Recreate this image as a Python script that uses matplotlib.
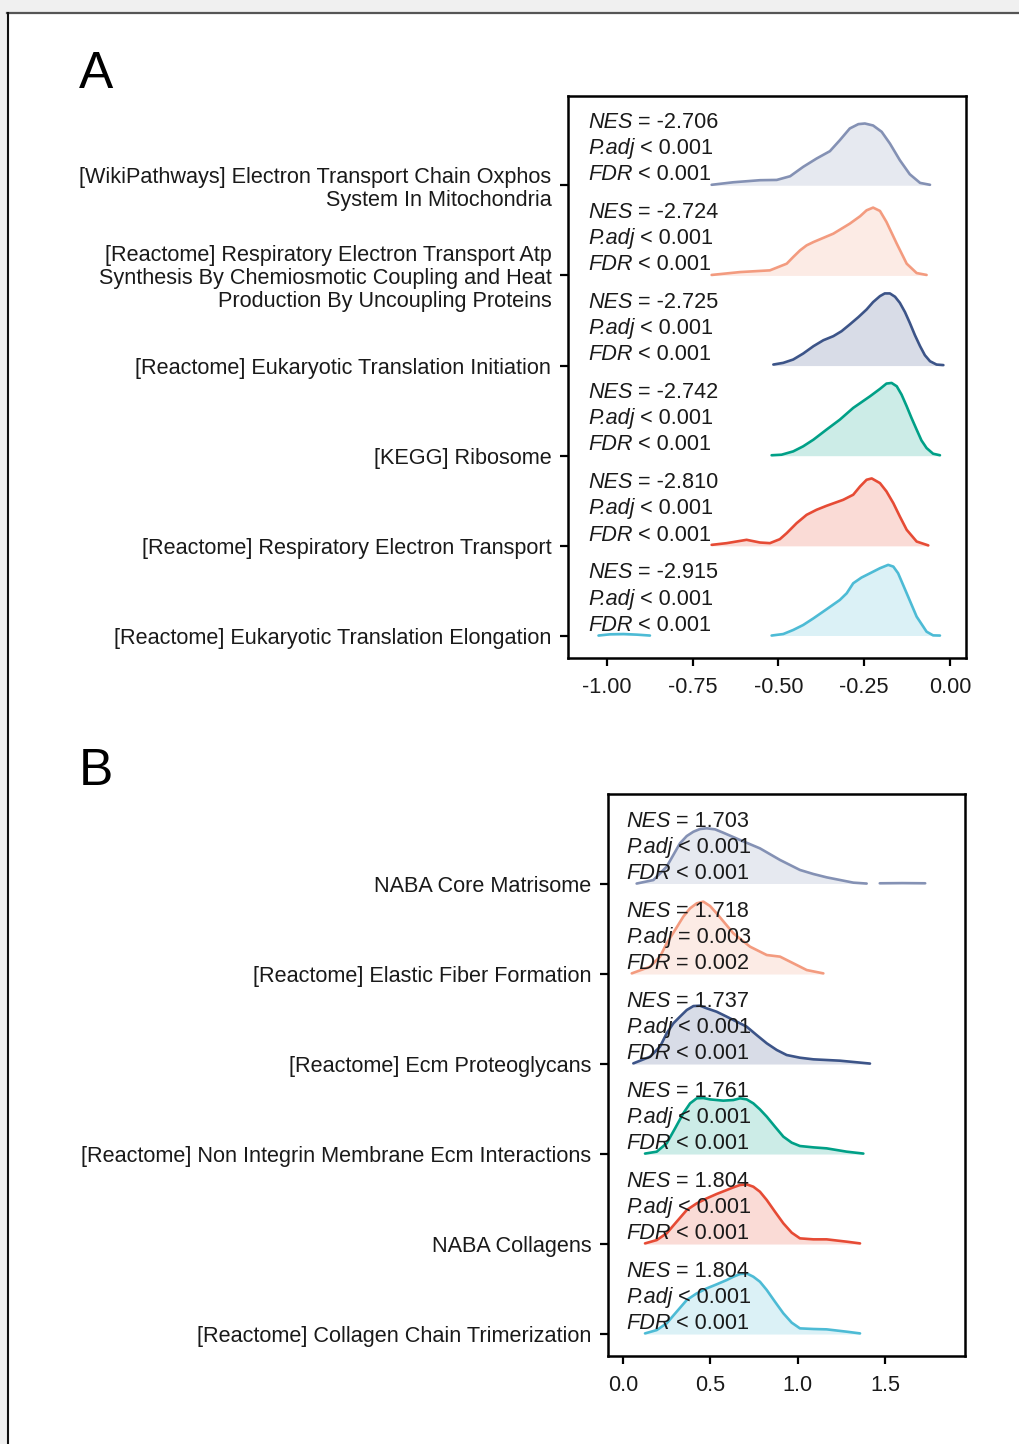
import numpy as np
import matplotlib
matplotlib.use("Agg")
import matplotlib.pyplot as plt
from matplotlib.patches import Rectangle
from matplotlib.lines import Line2D
import matplotlib.transforms as mtransforms

plt.rcParams['font.family'] = ['Liberation Sans', 'DejaVu Sans']

# ridge colours, top -> bottom (same in both panels)
colors = ["#8491B4", "#F39B7F", "#3C5488", "#00A087", "#E64B35", "#4DBBD5"]

# ---------------- panel A (top -> bottom) ----------------
labels_a = [
    "[WikiPathways] Electron Transport Chain Oxphos\nSystem In Mitochondria",
    "[Reactome] Respiratory Electron Transport Atp\nSynthesis By Chemiosmotic Coupling and Heat\nProduction By Uncoupling Proteins",
    "[Reactome] Eukaryotic Translation Initiation",
    "[KEGG] Ribosome",
    "[Reactome] Respiratory Electron Transport",
    "[Reactome] Eukaryotic Translation Elongation",
]
nes_a = ["-2.706", "-2.724", "-2.725", "-2.742", "-2.810", "-2.915"]
padj_a = ["< 0.001"] * 6
fdr_a = ["< 0.001"] * 6

# density curves (x = running score, h = ridge height)
a1_x = [-0.695, -0.632, -0.554, -0.505, -0.466, -0.428, -0.389, -0.350, -0.321, -0.292, -0.267, -0.248,
        -0.224, -0.199, -0.175, -0.146, -0.117, -0.087, -0.058]
a1_h = [0.005, 0.033, 0.056, 0.059, 0.10, 0.204, 0.296, 0.378, 0.50, 0.63, 0.678, 0.685,
        0.663, 0.593, 0.463, 0.278, 0.122, 0.026, 0.005]
a2_x = [-0.695, -0.612, -0.525, -0.476, -0.457, -0.437, -0.418, -0.398, -0.340, -0.292, -0.262, -0.243,
        -0.224, -0.204, -0.185, -0.155, -0.126, -0.097, -0.068]
a2_h = [0.005, 0.037, 0.056, 0.13, 0.204, 0.278, 0.333, 0.37, 0.463, 0.574, 0.656, 0.722,
        0.752, 0.715, 0.593, 0.352, 0.13, 0.026, 0.005]
a3_x = [-0.515, -0.486, -0.457, -0.428, -0.398, -0.369, -0.340, -0.316, -0.292, -0.267, -0.243, -0.224, -0.204,
        -0.190, -0.175, -0.160, -0.146, -0.131, -0.117, -0.102, -0.087, -0.073, -0.058, -0.039, -0.019]
a3_h = [0.011, 0.03, 0.067, 0.133, 0.215, 0.281, 0.326, 0.381, 0.456, 0.537, 0.622, 0.704, 0.77,
        0.80, 0.80, 0.763, 0.696, 0.593, 0.474, 0.337, 0.215, 0.115, 0.048, 0.011, 0.005]
a4_x = [-0.520, -0.491, -0.457, -0.428, -0.398, -0.360, -0.321, -0.282, -0.233, -0.204, -0.185, -0.170,
        -0.155, -0.141, -0.126, -0.112, -0.097, -0.083, -0.068, -0.049, -0.029]
a4_h = [0.005, 0.011, 0.048, 0.104, 0.178, 0.289, 0.40, 0.53, 0.659, 0.741, 0.80, 0.807,
        0.77, 0.678, 0.548, 0.419, 0.289, 0.17, 0.085, 0.022, 0.005]
a5_x = [-0.695, -0.651, -0.593, -0.554, -0.525, -0.496, -0.476, -0.447, -0.418, -0.389, -0.360, -0.311,
        -0.282, -0.262, -0.243, -0.228, -0.204, -0.185, -0.165, -0.146, -0.126, -0.097, -0.063]
a5_h = [0.011, 0.03, 0.067, 0.037, 0.03, 0.074, 0.141, 0.252, 0.344, 0.40, 0.444, 0.511,
        0.567, 0.659, 0.733, 0.748, 0.696, 0.604, 0.474, 0.326, 0.178, 0.048, 0.005]
a6_x = [-1.025, -0.991, -0.952, -0.913, -0.875, np.nan,
        -0.520, -0.486, -0.457, -0.428, -0.398, -0.360, -0.321, -0.301, -0.282, -0.258, -0.233, -0.204,
        -0.180, -0.165, -0.151, -0.126, -0.097, -0.068, -0.049, -0.029]
a6_h = [0.005, 0.019, 0.022, 0.015, 0.005, np.nan,
        0.005, 0.022, 0.067, 0.122, 0.196, 0.296, 0.40, 0.474, 0.585, 0.648, 0.696, 0.752,
        0.789, 0.77, 0.696, 0.474, 0.215, 0.048, 0.007, 0.005]
xs_a = [a1_x, a2_x, a3_x, a4_x, a5_x, a6_x]
hs_a = [a1_h, a2_h, a3_h, a4_h, a5_h, a6_h]

# ---------------- panel B (top -> bottom) ----------------
labels_b = [
    "NABA Core Matrisome",
    "[Reactome] Elastic Fiber Formation",
    "[Reactome] Ecm Proteoglycans",
    "[Reactome] Non Integrin Membrane Ecm Interactions",
    "NABA Collagens",
    "[Reactome] Collagen Chain Trimerization",
]
nes_b = ["1.703", "1.718", "1.737", "1.761", "1.804", "1.804"]
padj_b = ["< 0.001", "= 0.003", "< 0.001", "< 0.001", "< 0.001", "< 0.001"]
fdr_b = ["< 0.001", "= 0.002", "< 0.001", "< 0.001", "< 0.001", "< 0.001"]

b1_x = [0.078, 0.174, 0.25, 0.288, 0.326, 0.365, 0.403, 0.441, 0.479, 0.527, 0.574, 0.67, 0.784,
        0.899, 1.013, 1.09, 1.166, 1.319, 1.395, np.nan, 1.47, 1.60, 1.73]
b1_h = [0.005, 0.044, 0.193, 0.322, 0.452, 0.533, 0.581, 0.611, 0.619, 0.607, 0.57, 0.489, 0.396,
        0.267, 0.156, 0.111, 0.074, 0.015, 0.005, np.nan, 0.008, 0.010, 0.008]
b2_x = [0.05, 0.155, 0.212, 0.25, 0.298, 0.345, 0.384, 0.422, 0.46, 0.498, 0.536, 0.584, 0.632,
        0.727, 0.823, 0.899, 0.975, 1.052, 1.147]
b2_h = [0.007, 0.081, 0.193, 0.341, 0.489, 0.637, 0.73, 0.785, 0.804, 0.756, 0.674, 0.563, 0.452,
        0.304, 0.211, 0.193, 0.119, 0.044, 0.007]
b3_x = [0.059, 0.155, 0.212, 0.25, 0.288, 0.326, 0.365, 0.403, 0.441, 0.479, 0.536, 0.594, 0.708,
        0.765, 0.823, 0.88, 0.937, 1.013, 1.09, 1.242, 1.414]
b3_h = [0.007, 0.081, 0.193, 0.341, 0.452, 0.526, 0.60, 0.644, 0.648, 0.619, 0.581, 0.526, 0.415,
        0.322, 0.23, 0.156, 0.10, 0.07, 0.052, 0.037, 0.005]
b4_x = [0.126, 0.193, 0.25, 0.298, 0.345, 0.384, 0.422, 0.46, 0.498, 0.574, 0.632, 0.67, 0.708,
        0.746, 0.784, 0.823, 0.87, 0.918, 0.966, 1.013, 1.09, 1.166, 1.281, 1.376]
b4_h = [0.005, 0.026, 0.119, 0.285, 0.452, 0.563, 0.619, 0.622, 0.607, 0.593, 0.60, 0.619, 0.607,
        0.563, 0.496, 0.415, 0.304, 0.193, 0.126, 0.089, 0.074, 0.063, 0.026, 0.005]
b5_x = [0.126, 0.193, 0.25, 0.307, 0.365, 0.422, 0.479, 0.536, 0.594, 0.632, 0.67, 0.708, 0.746,
        0.784, 0.823, 0.87, 0.918, 0.966, 1.013, 1.09, 1.166, 1.281, 1.357]
b5_h = [0.007, 0.044, 0.119, 0.248, 0.378, 0.452, 0.507, 0.556, 0.60, 0.63, 0.656, 0.663, 0.637,
        0.581, 0.489, 0.359, 0.23, 0.126, 0.063, 0.052, 0.052, 0.026, 0.007]
b6_x = [0.126, 0.193, 0.25, 0.307, 0.365, 0.422, 0.479, 0.536, 0.594, 0.632, 0.67, 0.708, 0.746,
        0.784, 0.823, 0.87, 0.918, 0.966, 1.013, 1.09, 1.166, 1.281, 1.357]
b6_h = [0.007, 0.044, 0.119, 0.248, 0.378, 0.452, 0.507, 0.552, 0.60, 0.637, 0.667, 0.674, 0.637,
        0.581, 0.489, 0.359, 0.23, 0.126, 0.063, 0.056, 0.052, 0.026, 0.007]
xs_b = [b1_x, b2_x, b3_x, b4_x, b5_x, b6_x]
hs_b = [b1_h, b2_h, b3_h, b4_h, b5_h, b6_h]

W, H = 1019, 1444
fig = plt.figure(figsize=(W / 100, H / 100), dpi=100)
fig.patch.set_facecolor("white")

# screenshot frame: gray strip on top and left
fig.add_artist(Rectangle((0, 1 - 12.5 / H), 1, 12.5 / H, transform=fig.transFigure,
                         facecolor="#f0f0f0", edgecolor="none"))
fig.add_artist(Rectangle((0, 0), 7 / W, 1, transform=fig.transFigure,
                         facecolor="#f0f0f0", edgecolor="none"))
fig.add_artist(Line2D([7 / W, 1], [1 - 13 / H, 1 - 13 / H], transform=fig.transFigure,
                      color="#555555", lw=1.6))
fig.add_artist(Line2D([7.5 / W, 7.5 / W], [0, 1 - 13 / H], transform=fig.transFigure,
                      color="#111111", lw=1.5))

FS = 15.6
TXT = "#1a1a1a"


def stat_line(ax, tr, x, y, name, rest):
    t = ax.text(x, y, name, transform=tr, ha="left", va="center", fontsize=FS,
                style="italic", color=TXT, zorder=4)
    ax.annotate(" " + rest, xy=(1, 0.5), xycoords=t, ha="left", va="center",
                fontsize=FS, color=TXT, zorder=4)


def ridge_panel(ax, xs, hs, labels, nes, padj, fdr, xlim, xticks, xticklabels, ylim, txt_x):
    n = len(xs)
    tr = mtransforms.blended_transform_factory(ax.transAxes, ax.transData)
    for k in range(n):
        base = n - 1 - k
        x = np.array(xs[k], dtype=float)
        y = base + np.array(hs[k], dtype=float)
        ax.fill_between(x, base, y, color=colors[k], alpha=0.2, lw=0, zorder=2)
        ax.plot(x, y, color=colors[k], lw=1.9, zorder=3, solid_capstyle="round",
                solid_joinstyle="round")
        stat_line(ax, tr, txt_x, base + 0.70, "NES", "= " + nes[k])
        stat_line(ax, tr, txt_x, base + 0.41, "P.adj", padj[k])
        stat_line(ax, tr, txt_x, base + 0.12, "FDR", fdr[k])
    ax.set_xlim(*xlim)
    ax.set_ylim(*ylim)
    ax.set_yticks(range(n))
    ax.set_yticklabels(labels[::-1], fontsize=FS, color=TXT)
    for lbl in ax.get_yticklabels():
        lbl.set_linespacing(1.12)
    ax.set_xticks(xticks)
    ax.set_xticklabels(xticklabels, fontsize=FS, color=TXT)
    ax.tick_params(axis="both", length=6, width=1.6, color="black")
    ax.tick_params(axis="y", pad=6)
    ax.tick_params(axis="x", pad=7.5)
    for s in ax.spines.values():
        s.set_linewidth(1.8)
        s.set_color("black")


ax_a = fig.add_axes([568 / W, 1 - 658 / H, 398 / W, 562 / H])
ridge_panel(ax_a, xs_a, hs_a, labels_a, nes_a, padj_a, fdr_a,
            (-1.114, 0.047), [-1.0, -0.75, -0.5, -0.25, 0.0],
            ["-1.00", "-0.75", "-0.50", "-0.25", "0.00"], (-0.244, 5.99), 0.05)

ax_b = fig.add_axes([608 / W, 1 - 1356 / H, 357 / W, 562 / H])
ridge_panel(ax_b, xs_b, hs_b, labels_b, nes_b, padj_b, fdr_b,
            (-0.086, 1.958), [0.0, 0.5, 1.0, 1.5],
            ["0.0", "0.5", "1.0", "1.5"], (-0.244, 6.0), 0.05)

fig.text(79 / W, 1 - 88 / H, "A", fontsize=37, va="baseline", ha="left")
fig.text(79 / W, 1 - 785 / H, "B", fontsize=37, va="baseline", ha="left")

fig.savefig("out.png", dpi=100, facecolor=fig.get_facecolor())
